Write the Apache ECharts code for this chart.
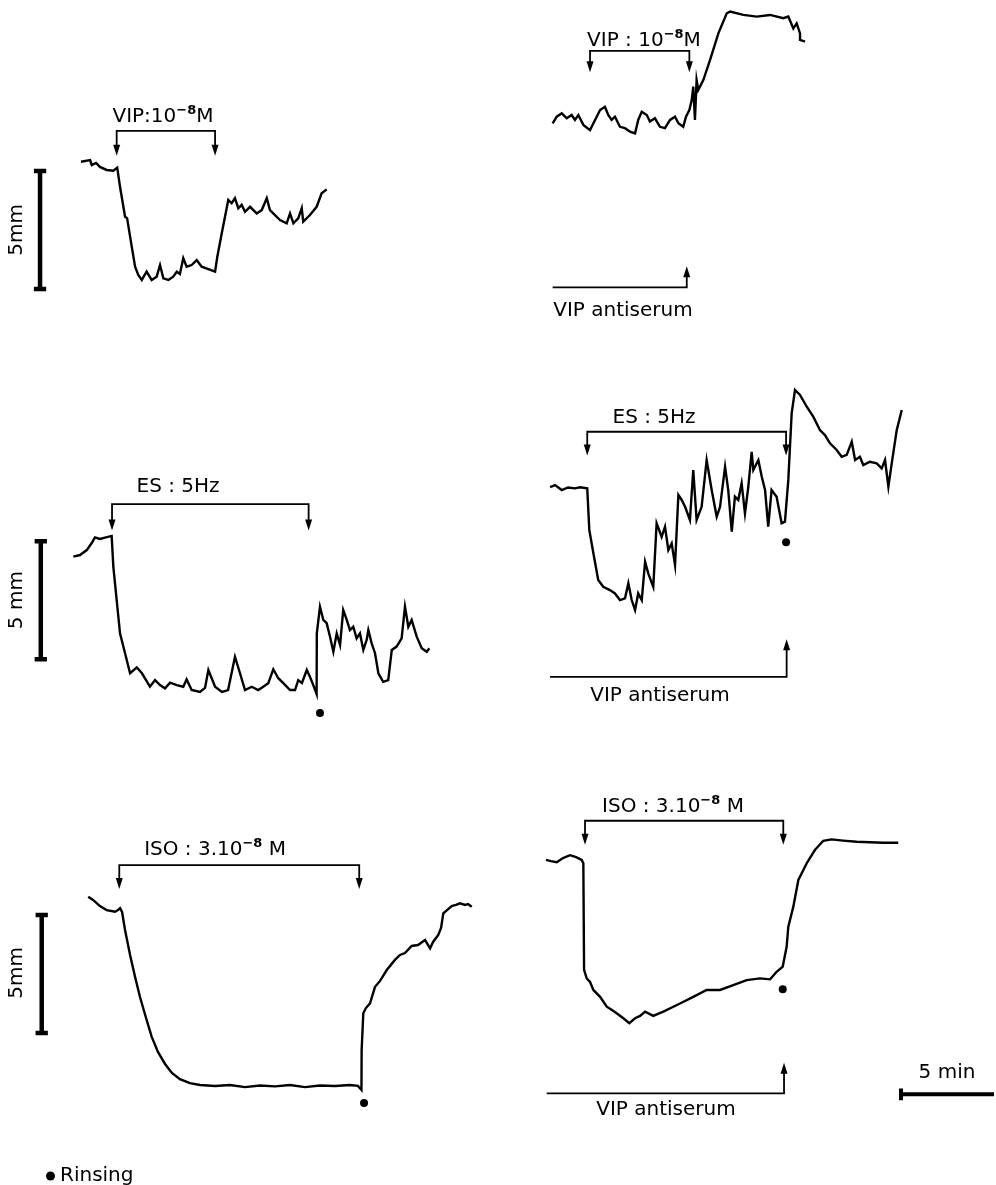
<!DOCTYPE html>
<html>
<head>
<meta charset="utf-8">
<title>VIP antiserum – tension traces</title>
<script src="https://cdn.jsdelivr.net/npm/echarts@6/dist/echarts.min.js"></script>
<style>
  html, body { margin: 0; padding: 0; background: #fff; }
  #chart { width: 996px; height: 1185px; }
</style>
</head>
<body>
<div id="chart"></div>
<script>
// every trace point is [time in min, tension in mm]

// VIP 10^-8 M, control
const vipControl = [[2.74,5.86],[3.23,5.93],[3.32,5.72],[3.55,5.81],[3.76,5.64],[4.12,5.51],[4.48,5.48],[4.69,5.61],[4.84,4.80],[5.11,3.53],[5.22,3.47],[5.47,2.26],[5.65,1.41],[5.82,1.06],[6.01,0.85],[6.27,1.20],[6.54,0.85],[6.81,0.99],[6.99,1.48],[7.17,0.92],[7.44,0.85],[7.70,0.99],[7.89,1.20],[8.06,1.10],[8.24,1.77],[8.42,1.41],[8.69,1.48],[8.96,1.69],[9.23,1.41],[9.95,1.20],[10.07,1.83],[10.31,2.83],[10.66,4.24],[10.84,4.10],[11.02,4.31],[11.20,3.89],[11.38,4.03],[11.56,3.74],[11.83,3.95],[12.19,3.67],[12.46,3.81],[12.73,4.31],[12.90,3.81],[13.44,3.39],[13.80,3.25],[13.98,3.67],[14.16,3.25],[14.42,3.46],[14.61,3.89],[14.69,3.32],[15.05,3.60],[15.41,3.95],[15.68,4.52],[15.95,4.69]];
// VIP 10^-8 M, with VIP antiserum
const vipAntiserum = [[0.68,8.76],[0.90,9.04],[1.17,9.18],[1.44,8.97],[1.70,9.11],[1.88,8.90],[2.06,9.11],[2.33,8.69],[2.69,8.47],[2.96,8.90],[3.23,9.32],[3.49,9.46],[3.67,9.11],[3.85,8.90],[4.03,9.04],[4.30,8.61],[4.57,8.55],[4.84,8.40],[5.11,8.33],[5.28,8.90],[5.47,9.25],[5.74,9.11],[5.91,8.83],[6.18,8.97],[6.45,8.61],[6.72,8.55],[6.99,8.90],[7.26,9.04],[7.44,8.76],[7.70,8.61],[7.85,9.04],[8.03,9.32],[8.16,9.75],[8.24,10.31],[8.33,8.90],[8.42,10.59],[8.51,10.17],[8.78,10.59],[9.14,11.44],[9.59,12.57],[10.04,13.42],[10.22,13.49],[10.93,13.35],[11.65,13.28],[12.37,13.35],[13.08,13.21],[13.35,13.28],[13.62,12.78],[13.80,12.99],[13.98,12.57],[13.98,12.29],[14.25,12.22]];
// ES 5 Hz, control
const esControl = [[2.33,6.92],[2.69,6.99],[3.05,7.20],[3.32,7.50],[3.49,7.74],[3.76,7.67],[4.03,7.73],[4.39,7.80],[4.48,6.50],[4.66,5.08],[4.84,3.67],[5.11,2.83],[5.38,1.98],[5.74,2.23],[6.01,1.99],[6.45,1.41],[6.72,1.69],[6.99,1.48],[7.26,1.34],[7.53,1.58],[7.89,1.48],[8.24,1.41],[8.42,1.72],[8.69,1.27],[9.14,1.19],[9.41,1.36],[9.59,2.12],[9.95,1.41],[10.32,1.19],[10.65,1.27],[11.02,2.68],[11.29,1.98],[11.56,1.27],[11.92,1.41],[12.27,1.27],[12.54,1.41],[12.81,1.56],[13.08,2.15],[13.35,1.77],[13.62,1.56],[13.98,1.27],[14.25,1.27],[14.42,1.69],[14.62,1.57],[14.88,2.12],[15.05,1.83],[15.23,1.48],[15.41,1.10],[15.42,3.67],[15.50,3.60],[15.59,4.80],[15.77,4.24],[15.95,4.10],[16.13,3.53],[16.31,2.89],[16.49,3.67],[16.67,3.18],[16.84,4.66],[17.03,4.24],[17.20,3.81],[17.38,3.95],[17.56,3.46],[17.74,3.67],[17.92,2.97],[18.10,3.39],[18.19,3.81],[18.37,3.25],[18.55,2.83],[18.73,1.98],[18.99,1.62],[19.26,1.69],[19.45,2.97],[19.71,3.11],[19.98,3.46],[20.16,4.80],[20.34,3.95],[20.52,4.24],[20.79,3.53],[21.06,3.04],[21.33,2.89],[21.47,3.04]];
// ES 5 Hz, with VIP antiserum
const esAntiserum = [[0.54,9.44],[0.81,9.53],[1.17,9.32],[1.51,9.43],[1.88,9.39],[2.15,9.44],[2.54,9.39],[2.65,7.63],[2.87,6.64],[3.13,5.51],[3.40,5.22],[3.76,5.08],[4.03,4.94],[4.30,4.66],[4.57,4.73],[4.75,5.37],[4.93,4.66],[5.11,4.24],[5.28,4.94],[5.47,4.66],[5.65,6.28],[5.82,5.79],[6.09,5.22],[6.27,7.91],[6.54,7.34],[6.72,7.77],[6.90,6.78],[7.08,7.06],[7.26,6.14],[7.44,9.11],[7.62,8.90],[7.80,8.61],[8.06,8.05],[8.24,10.17],[8.42,8.05],[8.69,8.61],[8.96,10.59],[9.23,9.32],[9.50,8.19],[9.68,8.61],[9.95,10.31],[10.12,9.32],[10.31,7.56],[10.48,9.04],[10.66,8.90],[10.84,9.61],[11.02,8.33],[11.20,9.46],[11.38,10.94],[11.47,10.17],[11.74,10.59],[11.92,9.89],[12.10,9.32],[12.27,7.77],[12.45,9.32],[12.72,9.04],[12.99,7.91],[13.17,7.98],[13.35,9.75],[13.53,12.57],[13.71,13.56],[13.98,13.35],[14.34,12.85],[14.69,12.43],[15.05,11.86],[15.32,11.65],[15.59,11.30],[15.95,11.02],[16.22,10.73],[16.49,10.81],[16.76,11.37],[16.94,10.59],[17.20,10.73],[17.38,10.38],[17.74,10.52],[18.10,10.45],[18.37,10.24],[18.55,10.59],[18.73,9.46],[18.91,10.45],[19.18,11.86],[19.45,12.71]];
// ISO 3.10^-8 M, control
const isoControl = [[3.13,9.04],[3.39,8.90],[3.76,8.64],[4.12,8.47],[4.57,8.40],[4.73,8.47],[4.84,8.55],[4.95,8.39],[5.11,7.63],[5.38,6.57],[5.65,5.64],[5.91,4.80],[6.24,3.90],[6.54,3.11],[6.88,2.46],[7.26,1.95],[7.63,1.57],[8.06,1.31],[8.60,1.14],[9.14,1.06],[9.95,1.02],[10.75,1.06],[11.56,0.97],[12.37,1.04],[13.17,1.00],[13.98,1.06],[14.78,0.97],[15.59,1.04],[16.40,1.02],[17.20,1.06],[17.63,1.02],[17.82,0.85],[17.83,2.54],[17.92,4.10],[18.06,4.32],[18.28,4.52],[18.55,5.22],[18.82,5.47],[19.18,5.93],[19.62,6.36],[19.89,6.57],[20.16,6.65],[20.52,6.95],[20.86,6.99],[21.24,7.20],[21.51,6.85],[21.67,7.12],[21.95,7.42],[22.10,7.71],[22.22,8.33],[22.42,8.47],[22.67,8.64],[22.90,8.69],[23.12,8.76],[23.39,8.69],[23.55,8.73],[23.75,8.61]];
// ISO 3.10^-8 M, with VIP antiserum
const isoAntiserum = [[0.32,11.02],[0.59,10.97],[0.90,10.92],[1.24,11.10],[1.61,11.22],[1.94,11.14],[2.24,11.02],[2.33,10.88],[2.37,6.36],[2.51,6.00],[2.69,5.85],[2.87,5.51],[3.23,5.22],[3.59,4.80],[3.87,4.66],[4.12,4.52],[4.48,4.31],[4.80,4.10],[5.11,4.31],[5.38,4.41],[5.65,4.59],[6.09,4.41],[6.63,4.59],[7.17,4.80],[7.69,5.00],[8.24,5.22],[8.96,5.51],[9.68,5.51],[10.39,5.72],[11.11,5.93],[11.83,6.00],[12.37,5.96],[12.72,6.28],[13.05,6.50],[13.26,7.34],[13.35,8.19],[13.62,9.04],[13.89,10.17],[14.34,10.88],[14.78,11.44],[15.23,11.83],[15.68,11.89],[16.29,11.84],[17.03,11.79],[17.74,11.77],[18.46,11.75],[19.26,11.75]];

// drug / stimulation periods [on, off] in min
const vipControlDrug = [4.66, 9.95];
const vipAntiDrug = [2.69, 8.03];
const esControlStim = [4.41, 14.98];
const esAntiStim = [2.54, 13.23];
const isoControlDrug = [4.80, 17.70];
const isoAntiDrug = [2.42, 13.08];

// antiserum present [from, added at] in min
const vipSerumTime = [0.68, 7.89];
const esSerumTime = [0.54, 13.26];
const isoSerumTime = [0.36, 13.12];

// rinsing points [min, mm]
const esControlRinse = [15.59, 0.30];
const esAntiRinse = [13.23, 7.11];
const isoControlRinse = [17.96, 0.30];
const isoAntiRinse = [13.05, 5.54];

// calibration
const SCALE_MM = 5;
const SCALE_MIN = 5;

const PX_MIN = 18.6;
const PX_MM = 23.6;
const INK = "#000";
const FONT = "DejaVu Sans";

const panels = [
  { // VIP control
    box: { left: 30, top: 100, width: 310, height: 200 },
    trace: vipControl, drug: vipControlDrug, bracketY: 7.17, tipY: 6.14,
    title: "{n|VIP:10}{s|−8}{n|M}", titlePos: [7.15, 7.75],
    bar: { t: 0.54, y0: 0.47, text: "5mm", pos: [-0.70, 2.97] },
  },
  { // VIP + antiserum
    box: { left: 540, top: 0, width: 280, height: 330 },
    trace: vipAntiserum, drug: vipAntiDrug, bracketY: 11.83, tipY: 10.94,
    title: "{n|VIP : 10}{s|−8}{n|M}", titlePos: [5.59, 12.25],
    serum: { time: vipSerumTime, y: 1.81, tip: 2.68, pos: [4.46, 0.81] },
  },
  { // ES control
    box: { left: 30, top: 470, width: 410, height: 250 },
    trace: esControl, drug: esControlStim, bracketY: 9.15, tipY: 8.05,
    title: "{n|ES : 5Hz}", titlePos: [7.96, 9.87],
    bar: { t: 0.58, y0: 2.57, text: "5 mm", pos: [-0.70, 5.08] },
    rinse: esControlRinse,
  },
  { // ES + antiserum
    box: { left: 540, top: 380, width: 370, height: 330 },
    trace: esAntiserum, drug: esAntiStim, bracketY: 11.79, tipY: 10.81,
    title: "{n|ES : 5Hz}", titlePos: [6.13, 12.37],
    serum: { time: esSerumTime, y: 1.40, tip: 2.97, pos: [6.45, 0.59] },
    rinse: esAntiRinse,
  },
  { // ISO control
    box: { left: 30, top: 840, width: 450, height: 270 },
    trace: isoControl, drug: isoControlDrug, bracketY: 10.38, tipY: 9.39,
    title: "{n|ISO : 3.10}{s|−8}{n| M}", titlePos: [9.95, 11.02],
    bar: { t: 0.63, y0: 3.26, text: "5mm", pos: [-0.70, 5.81] },
    rinse: isoControlRinse,
  },
  { // ISO + antiserum, carries the time bar
    box: { left: 540, top: 790, width: 456, height: 330 },
    trace: isoAntiserum, drug: isoAntiDrug, bracketY: 12.68, tipY: 11.69,
    title: "{n|ISO : 3.10}{s|−8}{n| M}", titlePos: [7.15, 13.26],
    serum: { time: isoSerumTime, y: 1.13, tip: 2.40, pos: [6.77, 0.42] },
    rinse: isoAntiRinse,
    timeBar: { t0: 19.41, y: 1.09, pos: [21.88, 1.99] },
  },
];

const rich = {
  n: { fontSize: 20, fontFamily: FONT, color: INK, lineHeight: 26 },
  s: { fontSize: 13, fontFamily: FONT, fontWeight: "bold", color: INK, verticalAlign: "top", lineHeight: 14 },
};

const base = { animation: false, silent: true, clip: false };

function pathSeries(i, data, width) {
  return {
    ...base, type: "line", xAxisIndex: i, yAxisIndex: i, data,
    symbol: "none", lineStyle: { color: INK, width, opacity: 1, cap: "butt", join: "miter" },
  };
}
function markerSeries(i, data, symbol, size, rotate) {
  return {
    ...base, type: "scatter", xAxisIndex: i, yAxisIndex: i, data,
    symbol, symbolSize: size, symbolRotate: rotate || 0,
    itemStyle: { color: INK, opacity: 1 },
  };
}
function textSeries(i, pos, text, rotate) {
  return {
    ...base, type: "scatter", xAxisIndex: i, yAxisIndex: i, data: [pos], symbolSize: 0,
    itemStyle: { opacity: 1 },
    label: {
      show: true, position: "inside", formatter: text, rotate: rotate || 0,
      fontSize: 20, fontFamily: FONT, color: INK, opacity: 1, rich,
    },
  };
}

const grids = [], xAxes = [], yAxes = [], series = [];
panels.forEach((p, i) => {
  grids.push({ ...p.box });
  xAxes.push({ type: "value", gridIndex: i, show: false, min: 0, max: p.box.width / PX_MIN });
  yAxes.push({ type: "value", gridIndex: i, show: false, min: 0, max: p.box.height / PX_MM });

  series.push(pathSeries(i, p.trace, 2.4));

  // drug bracket with down arrows
  const [on, off] = p.drug;
  series.push(pathSeries(i, [[on, p.tipY + 0.2], [on, p.bracketY], [off, p.bracketY], [off, p.tipY + 0.2]], 1.8));
  series.push(markerSeries(i, [[on, p.tipY + 0.21], [off, p.tipY + 0.21]], "triangle", [7, 11], 180));
  series.push(textSeries(i, p.titlePos, p.title));

  if (p.bar) {
    const { t, y0 } = p.bar, c = 0.33;
    series.push(pathSeries(i, [[t - c, y0], [t + c, y0], [t, y0], [t, y0 + SCALE_MM], [t - c, y0 + SCALE_MM], [t + c, y0 + SCALE_MM]], 4.5));
    series.push(textSeries(i, p.bar.pos, "{n|" + p.bar.text + "}", 90));
  }
  if (p.serum) {
    const [from, at] = p.serum.time;
    series.push(pathSeries(i, [[from, p.serum.y], [at, p.serum.y], [at, p.serum.tip - 0.2]], 1.8));
    series.push(markerSeries(i, [[at, p.serum.tip - 0.21]], "triangle", [7, 11], 0));
    series.push(textSeries(i, p.serum.pos, "{n|VIP antiserum}"));
  }
  if (p.rinse) {
    series.push({ ...markerSeries(i, [p.rinse], "circle", 8), name: "Rinsing" });
  }
  if (p.timeBar) {
    const { t0, y } = p.timeBar;
    series.push(pathSeries(i, [[t0, y - 0.25], [t0, y + 0.25], [t0, y], [t0 + SCALE_MIN, y]], 4));
    series.push(textSeries(i, p.timeBar.pos, "{n|5 min}"));
  }
});

const chart = echarts.init(document.getElementById("chart"), null, { renderer: "canvas" });
chart.setOption({
  backgroundColor: "#fff",
  animation: false,
  grid: grids,
  xAxis: xAxes,
  yAxis: yAxes,
  legend: {
    data: [{ name: "Rinsing", icon: "circle", itemStyle: { color: INK, opacity: 1 } }],
    left: 41, top: 1161,
    itemWidth: 9, itemHeight: 9, itemGap: 8,
    selectedMode: false,
    textStyle: { fontSize: 20, fontFamily: FONT, color: INK },
  },
  series,
});
</script>
</body>
</html>
